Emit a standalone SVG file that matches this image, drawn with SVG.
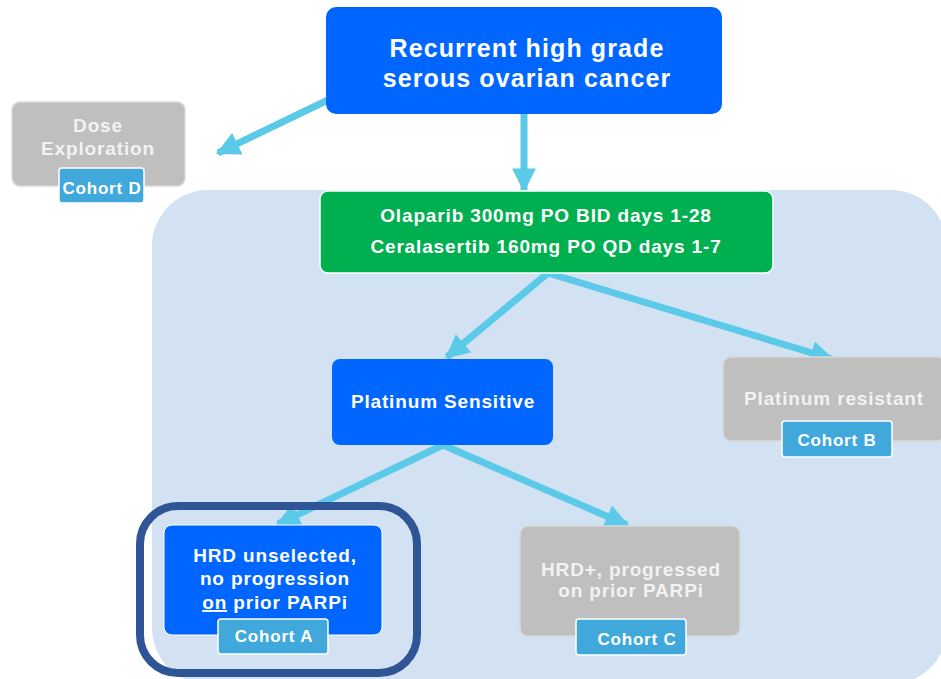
<svg xmlns="http://www.w3.org/2000/svg" width="941" height="679" viewBox="0 0 941 679">
  <defs>
    <marker id="arrow" viewBox="0 0 10 10" refX="9" refY="5" markerWidth="3.6" markerHeight="3.4" orient="auto" markerUnits="strokeWidth">
      <path d="M0,0 L10,5 L0,10 Z" fill="#5BC9E8"/>
    </marker>
    <style>
      text { font-family: "Liberation Sans", Arial, sans-serif; font-weight: bold; fill: #FFFFFF; text-anchor: middle; }
      .t19 { font-size: 19px; letter-spacing: 0.85px; }
      .t25 { font-size: 25px; letter-spacing: 1.1px; }
      .blue { fill: #0066FF; }
      .green { fill: #00B050; stroke: #FFFFFF; stroke-width: 1.5; }
      .gray { fill: #BFBFBF; stroke: #D9D9D9; stroke-width: 1.5; }
      .gray-text { fill: #F2F2F2; }
      .tag { fill: #41A8DC; stroke: #FFFFFF; stroke-width: 1.5; }
      .tag-text { font-size: 17px; letter-spacing: 0.8px; }
      .link { fill: none; stroke: #5BC9E8; stroke-width: 7; marker-end: url(#arrow); }
    </style>
  </defs>

  <rect width="941" height="679" fill="#FFFFFF"/>

  <!-- trial panel -->
  <rect id="panel" x="152" y="190" width="795" height="494" rx="56" fill="#D2E2F2"/>

  <g id="connectors">
    <line class="link" x1="328" y1="100" x2="218" y2="153"/>
    <line class="link" x1="524" y1="114" x2="524" y2="190"/>
    <line class="link" x1="548" y1="273" x2="447" y2="357"/>
    <line class="link" x1="548" y1="273" x2="832" y2="359"/>
    <line class="link" x1="443" y1="445" x2="278" y2="524"/>
    <line class="link" x1="443" y1="445" x2="627" y2="525"/>
  </g>

  <g id="hrdsc">
    <rect x="326" y="7" width="396" height="107" rx="10" class="blue"/>
    <text x="527" y="57" class="t25">Recurrent high grade</text>
    <text x="527" y="87" class="t25">serous ovarian cancer</text>
  </g>

  <g id="dose-exploration">
    <rect x="12" y="102" width="173" height="84" rx="8" class="gray"/>
    <text x="98" y="132" class="t19 gray-text">Dose</text>
    <text x="98" y="155" class="t19 gray-text">Exploration</text>
    <rect x="59" y="168" width="85" height="35" rx="3" class="tag"/>
    <text x="102" y="194" class="tag-text">Cohort D</text>
  </g>

  <g id="treatment">
    <rect x="320" y="191" width="453" height="82" rx="8" class="green"/>
    <text x="546" y="222" class="t19">Olaparib 300mg PO BID days 1-28</text>
    <text x="546" y="253" class="t19">Ceralasertib 160mg PO QD days 1-7</text>
  </g>

  <g id="platinum-sensitive">
    <rect x="332" y="359" width="221" height="86" rx="8" class="blue"/>
    <text x="443" y="408" class="t19">Platinum Sensitive</text>
  </g>

  <g id="platinum-resistant">
    <rect x="723" y="357" width="222" height="84" rx="8" class="gray"/>
    <text x="834" y="405" class="t19 gray-text">Platinum resistant</text>
    <rect x="782" y="421" width="110" height="36" rx="3" class="tag"/>
    <text x="837" y="446" class="tag-text">Cohort B</text>
  </g>

  <g id="cohort-a">
    <rect x="140" y="506" width="277" height="167" rx="38" fill="none" stroke="#2F5597" stroke-width="8"/>
    <rect x="164" y="525" width="218" height="110" rx="8" class="blue" stroke="#FFFFFF" stroke-width="1"/>
    <text x="275" y="562" class="t19">HRD unselected,</text>
    <text x="275" y="585" class="t19">no progression</text>
    <text x="275" y="609" class="t19"><tspan text-decoration="underline">on</tspan> prior PARPi</text>
    <rect x="218" y="619" width="110" height="35" rx="3" class="tag"/>
    <text x="274" y="642" class="tag-text">Cohort A</text>
  </g>

  <g id="cohort-c">
    <rect x="520" y="526" width="220" height="110" rx="8" class="gray"/>
    <text x="631" y="576" class="t19 gray-text">HRD+, progressed</text>
    <text x="631" y="597" class="t19 gray-text">on prior PARPi</text>
    <rect x="576" y="619" width="110" height="36" rx="3" class="tag"/>
    <text x="637" y="645" class="tag-text">Cohort C</text>
  </g>
</svg>
